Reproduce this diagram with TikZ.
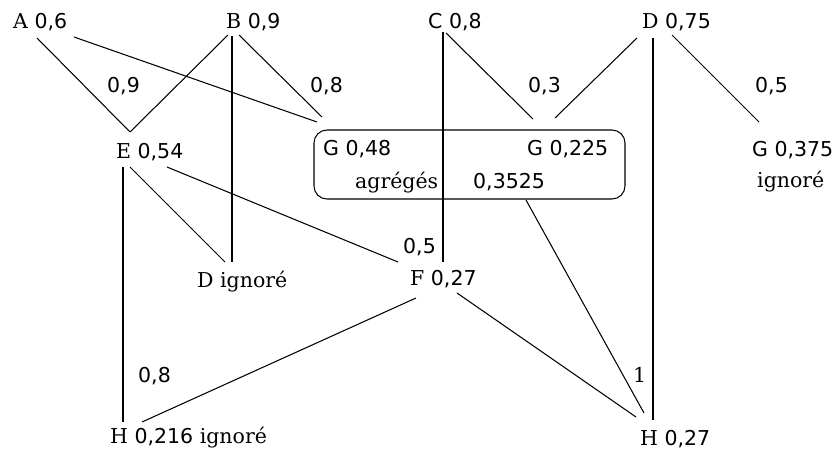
\documentclass[tikz,border=0pt]{standalone}
\usepackage{fontspec}
\setmainfont{DejaVu Serif}
\newfontfamily\numfont{DejaVu Sans}
\newcommand\nb[1]{{\numfont #1}}
\begin{document}
\begin{tikzpicture}[x=1pt,y=-1pt,
  lbl/.style={anchor=base west,inner sep=0pt,font=\fontsize{20.5}{24}\selectfont},
  edge/.style={line width=1.05pt},
  grp/.style={draw,line width=1.05pt,rounded corners=13pt,inner sep=0pt}]
\useasboundingbox (0,0) rectangle (839,452);
% nodes
\node[lbl] (A) at (13,29) {A \nb{0,6}};
\node[lbl] (B) at (226,29) {B \nb{0,9}};
\node[lbl] (C) at (428,29) {\nb{C 0,8}};
\node[lbl] (D) at (642,29) {D \nb{0,75}};
\node[lbl] (E) at (116,158) {E \nb{0,54}};
\node[grp,minimum width=311pt,minimum height=69pt] (box) at (469.5,164.5) {};
\node[lbl] (G1) at (323,156) {\nb{G 0,48}};
\node[lbl] (G2) at (527,156) {\nb{G 0,225}};
\node[lbl] (agr) at (355,188) {agrégés};
\node[lbl] (agv) at (473,188) {\nb{0,3525}};
\node[lbl] (G3) at (752,157) {\nb{G 0,375}};
\node[lbl] (ign) at (757,187) {ignoré};
\node[lbl] (Dign) at (197,287) {D ignoré};
\node[lbl] (F) at (410,285) {F \nb{0,27}};
\node[lbl] (H1) at (110,443) {H \nb{0,216} ignoré};
\node[lbl] (H2) at (640,445) {H \nb{0,27}};
% weights
\node[lbl] (w1) at (107,93) {\nb{0,9}};
\node[lbl] (w2) at (310,93) {\nb{0,8}};
\node[lbl] (w3) at (528,93) {\nb{0,3}};
\node[lbl] (w4) at (755,93) {\nb{0,5}};
\node[lbl] (w5) at (403,253) {\nb{0,5}};
\node[lbl] (w6) at (138,382) {\nb{0,8}};
\node[lbl] (w7) at (633,382) {1};
% connector end points
\coordinate (Aa) at (37,38);   \coordinate (Ab) at (74,37);
\coordinate (Ba) at (228,35);  \coordinate (Bb) at (232,36);  \coordinate (Bc) at (239,35);
\coordinate (Ca) at (443,32);  \coordinate (Cb) at (446,33);
\coordinate (Da) at (637,38);  \coordinate (Db) at (653,38);  \coordinate (Dc) at (672,35);
\coordinate (Et) at (130,132);
\coordinate (Ea) at (123,167); \coordinate (Eb) at (130,167); \coordinate (Ec) at (167,167);
\coordinate (Ga) at (317,122); \coordinate (Gb) at (322,117);
\coordinate (Gc) at (533,119); \coordinate (Gd) at (555,118);
\coordinate (Gbot) at (526,200);
\coordinate (G3t) at (759,122);
\coordinate (Dit) at (225,262); \coordinate (Dit2) at (232,262);
\coordinate (Fa) at (398,262); \coordinate (Fb) at (443,262);
\coordinate (Fc) at (416,298); \coordinate (Fd) at (457,293);
\coordinate (H1a) at (123,422); \coordinate (H1b) at (142,422);
\coordinate (H2a) at (636,417); \coordinate (H2b) at (644,413); \coordinate (H2c) at (653,420);
% connectors
\draw[edge] (Aa) -- (Et);
\draw[edge] (Ab) -- (Ga);
\draw[edge] (Ba) -- (Et);
\draw[edge] (Bb) -- (Dit2);
\draw[edge] (Bc) -- (Gb);
\draw[edge] (Ca) -- (Fb);
\draw[edge] (Cb) -- (Gc);
\draw[edge] (Da) -- (Gd);
\draw[edge] (Db) -- (H2c);
\draw[edge] (Dc) -- (G3t);
\draw[edge] (Ea) -- (H1a);
\draw[edge] (Eb) -- (Dit);
\draw[edge] (Ec) -- (Fa);
\draw[edge] (Fc) -- (H1b);
\draw[edge] (Fd) -- (H2a);
\draw[edge] (Gbot) -- (H2b);
\end{tikzpicture}
\end{document}
